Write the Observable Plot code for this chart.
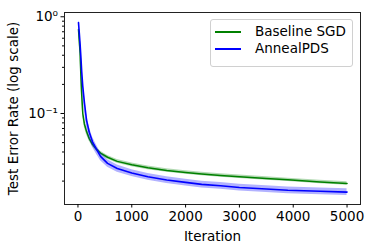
<!DOCTYPE html>
<html>
<head>
<meta charset="utf-8">
<script src="https://cdn.jsdelivr.net/npm/d3@7"></script>
<script src="https://cdn.jsdelivr.net/npm/@observablehq/plot@0.6"></script>
<style>
  html, body { margin: 0; padding: 0; background: white; }
  #wrap { position: relative; width: 374px; height: 249px; font-family: "DejaVu Sans", sans-serif; }
  #legend { position: absolute; left: 210px; top: 19px; width: 143px; height: 48px;
    border: 1px solid #d0d0d0; border-radius: 3px; background: rgba(255,255,255,0.85);
    box-sizing: border-box; font-size: 13.5px; color: #000; }
  .row { position: absolute; left: 0; height: 17px; }
  .sw { position: absolute; left: 4px; width: 26px; height: 2px; }
  .lab { position: absolute; left: 44px; white-space: nowrap; line-height: 17px; }
</style>
</head>
<body>
<div id="wrap"><div id="legend"></div></div>
<script>
const seriesNames = ["Baseline SGD", "AnnealPDS"];
const seriesColors = ["green", "blue"];
const iterations = [10, 25, 40, 55, 70, 90, 120, 160, 210, 270, 340, 420, 550, 730, 1000, 1300, 1650, 2000, 2300, 2650, 3000, 3500, 3900, 4500, 5000];
const sgdError = [0.74, 0.56, 0.42, 0.24, 0.155, 0.10, 0.078, 0.065, 0.055, 0.048, 0.043, 0.039, 0.0353, 0.032, 0.0295, 0.0275, 0.0258, 0.0246, 0.0237, 0.0229, 0.0222, 0.0213, 0.0206, 0.0196, 0.0189];
const sgdSpread = [0.06, 0.07, 0.08, 0.10, 0.10, 0.09, 0.08, 0.07, 0.06, 0.05, 0.05, 0.045, 0.045, 0.045, 0.045, 0.045, 0.04, 0.04, 0.04, 0.04, 0.04, 0.04, 0.04, 0.04, 0.04];
const pdsError = [0.87, 0.68, 0.52, 0.38, 0.27, 0.19, 0.13, 0.085, 0.064, 0.051, 0.043, 0.036, 0.0305, 0.0270, 0.0243, 0.0222, 0.0205, 0.0194, 0.0185, 0.0179, 0.0172, 0.0166, 0.0161, 0.0157, 0.0154];
const pdsSpread = [0.06, 0.10, 0.14, 0.18, 0.20, 0.20, 0.18, 0.16, 0.14, 0.12, 0.11, 0.10, 0.09, 0.085, 0.08, 0.08, 0.08, 0.08, 0.08, 0.08, 0.08, 0.08, 0.08, 0.08, 0.08];
const xTicks = [0, 1000, 2000, 3000, 4000, 5000];
const yMajorTicks = [1, 0.1];
const yMajorLabels = ["10⁰", "10⁻¹"];
const yMinorTicks = [0.02, 0.03, 0.04, 0.05, 0.06, 0.07, 0.08, 0.09, 0.2, 0.3, 0.4, 0.5, 0.6, 0.7, 0.8, 0.9];
const xLabel = "Iteration";
const yLabel = "Test Error Rate (log scale)";

function rowsFor(name, vals, spread) {
  return iterations.map((it, i) => ({series: name, iter: it, v: vals[i], lo: vals[i] * (1 - spread[i]), hi: vals[i] * (1 + spread[i])}));
}
const sgdRows = rowsFor(seriesNames[0], sgdError, sgdSpread);
const pdsRows = rowsFor(seriesNames[1], pdsError, pdsSpread);

const chart = Plot.plot({
  width: 374, height: 249,
  marginLeft: 64, marginRight: 14, marginTop: 12, marginBottom: 45,
  style: {fontFamily: "DejaVu Sans", fontSize: "13.5px", background: "white", color: "black"},
  x: {domain: [-250, 5250]},
  y: {type: "log", domain: [0.01146, 1.107]},
  color: {domain: seriesNames, range: seriesColors},
  marks: [
    Plot.areaY(sgdRows, {x: "iter", y1: "lo", y2: "hi", fill: "series", fillOpacity: 0.3}),
    Plot.lineY(sgdRows, {x: "iter", y: "v", stroke: "series", strokeWidth: 1.5}),
    Plot.areaY(pdsRows, {x: "iter", y1: "lo", y2: "hi", fill: "series", fillOpacity: 0.3}),
    Plot.lineY(pdsRows, {x: "iter", y: "v", stroke: "series", strokeWidth: 1.6}),
    Plot.frame({stroke: "#222", strokeWidth: 1}),
    Plot.axisX({ticks: xTicks, tickSize: 3.5, tickPadding: 3, tickFormat: d => String(d),
      label: xLabel, labelAnchor: "center", labelArrow: "none", labelOffset: 36}),
    Plot.axisY({ticks: yMajorTicks, tickSize: 3.5, tickPadding: 3,
      tickFormat: d => yMajorLabels[yMajorTicks.indexOf(d)],
      label: yLabel, labelAnchor: "center", labelArrow: "none", labelOffset: 56}),
    Plot.axisY({ticks: yMinorTicks, tickSize: 2, tickFormat: () => "", label: null})
  ]
});
document.getElementById("wrap").prepend(chart);

const legend = document.getElementById("legend");
seriesNames.forEach((name, i) => {
  const row = document.createElement("div");
  row.className = "row";
  row.style.top = (3 + i * 17) + "px";
  const sw = document.createElement("div");
  sw.className = "sw";
  sw.style.top = "8px";
  sw.style.background = seriesColors[i];
  const lab = document.createElement("div");
  lab.className = "lab";
  lab.textContent = name;
  row.appendChild(sw); row.appendChild(lab);
  legend.appendChild(row);
});
</script>
</body>
</html>
